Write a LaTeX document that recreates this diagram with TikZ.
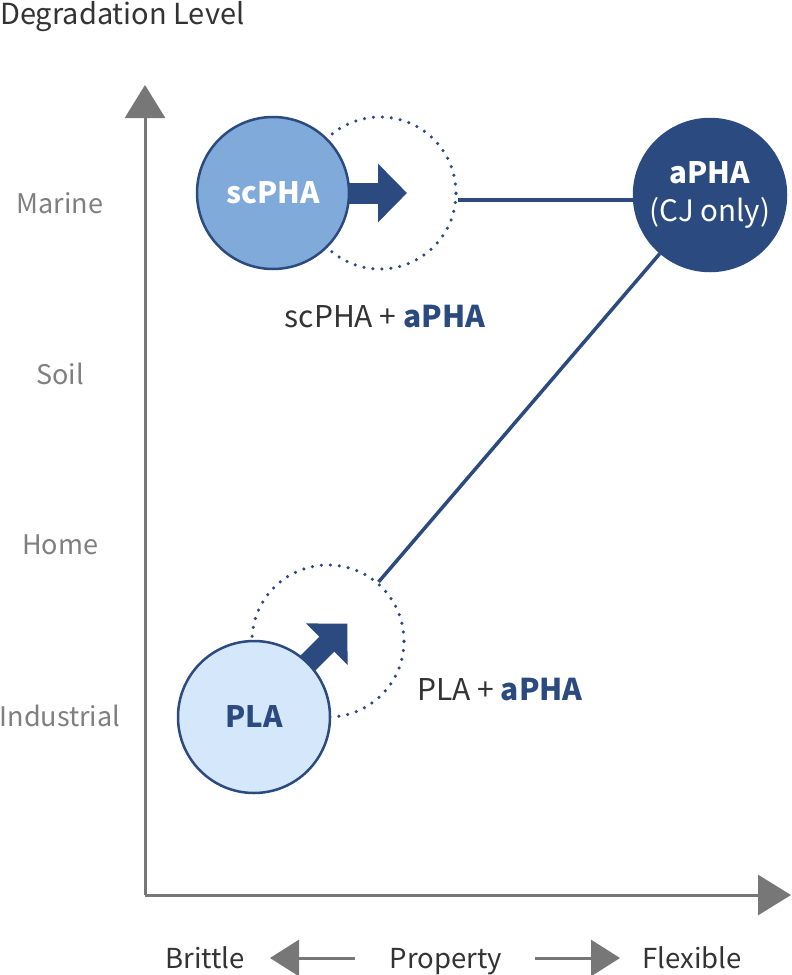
\documentclass[tikz,border=0pt]{standalone}
\usepackage{fontspec}
\setmainfont{Noto Sans CJK KR}
\usetikzlibrary{arrows.meta}
\definecolor{navy}{HTML}{2B4A80}
\definecolor{scblue}{HTML}{80AADA}
\definecolor{plablue}{HTML}{D5E7FB}
\definecolor{axisgray}{HTML}{777777}
\definecolor{labgray}{HTML}{7F7F7F}
\definecolor{ink}{HTML}{333333}

\begin{document}
\begin{tikzpicture}[x=1pt,y=-1pt,
  axis/.style={line width=3pt,axisgray,-{Triangle[length=33pt,width=40pt]}},
  legarrow/.style={line width=3pt,axisgray,-{Triangle[length=29pt,width=36pt]}},
  level/.style={font=\fontsize{27}{32}\selectfont,labgray},
  blob/.style={circle,draw=navy,line width=2.5pt,minimum size=152pt,inner sep=0pt},
  ghost/.style={circle,draw=navy,line width=3.5pt,minimum size=152pt,inner sep=0pt,
                dash pattern=on 0pt off 9pt,line cap=round},
  link/.style={line width=3.5pt,navy},
  push/.style={line width=21pt,navy,-{Triangle[length=29pt,width=57pt]}},
  mixlab/.style={font=\fontsize{30}{36}\selectfont,ink},
  legtext/.style={font=\fontsize{27.5}{33}\selectfont,ink,anchor=base}]

  \useasboundingbox (0,0) rectangle (792,975);

  % ===== axes =====
  \coordinate (origin) at (145,895);
  \draw[axis] (origin) -- (145,85);
  \draw[axis] (origin) -- (791,895);
  \node[anchor=west,inner sep=0pt,font=\fontsize{29}{34}\selectfont,ink] (ytitle) at (0,17) {Degradation Level};

  % ===== degradation levels =====
  \node[level] (marine) at (60,203) {Marine};
  \node[level] (soil) at (60,374) {Soil};
  \node[level] (home) at (60,545) {Home};
  \node[level] (industrial) at (60,716) {Industrial};

  % ===== blends (dotted) =====
  \node[ghost] (scmix) at (380,193) {};
  \node[ghost] (plamix) at (328,641) {};

  % ===== links to aPHA =====
  \node[blob,fill=navy,text=white,align=center,font=\fontsize{29.5}{38}\selectfont] (apha) at (710,195)
     {\textbf{aPHA}\\(CJ only)};
  \draw[link] ([yshift=-7pt]scmix.east) -- ([yshift=-5pt]apha.west);
  \draw[link] (apha) -- (plamix);

  % ===== shift arrows =====
  \draw[push] (273,193) ++(70,0) -- ++(64,0);
  \draw[push] (254,717) ++(45:70pt) -- ++(45:62pt);

  % ===== base materials =====
  \node[blob,fill=scblue,text=white,font=\fontsize{29.5}{34}\selectfont\bfseries] (scpha) at (273,193) {scPHA};
  \node[blob,fill=plablue,text=navy,font=\fontsize{29.5}{34}\selectfont\bfseries] (pla) at (254,717) {PLA};

  % ===== blend labels =====
  \node[mixlab] (sclab) at (385,317) {scPHA + \textcolor{navy}{\textbf{aPHA}}};
  \node[mixlab] (plalab) at (500,690) {PLA + \textcolor{navy}{\textbf{aPHA}}};

  % ===== property legend =====
  \node[legtext] (brittle) at (205,968) {Brittle};
  \node[legtext] (property) at (446,968) {Property};
  \node[legtext] (flexible) at (692,968) {Flexible};
  \draw[legarrow] (355,958) -- (270,958);
  \draw[legarrow] (535,958) -- (620,958);

\end{tikzpicture}
\end{document}
